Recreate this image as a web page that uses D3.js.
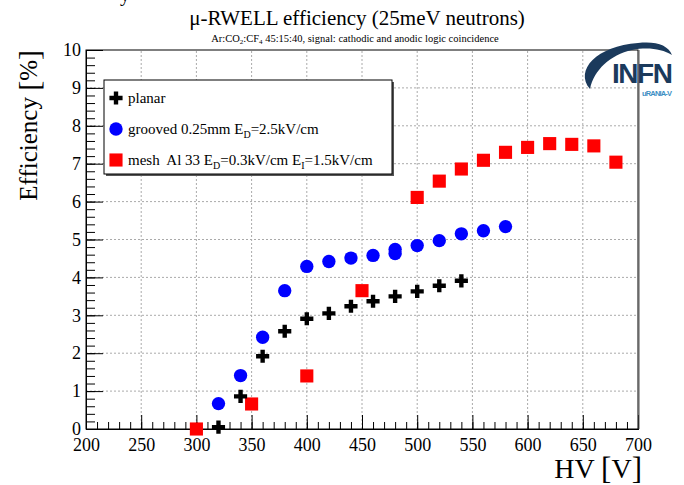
<!DOCTYPE html>
<html>
<head>
<meta charset="utf-8">
<script src="https://cdn.jsdelivr.net/npm/d3@7"></script>
<style>
  body { margin: 0; background: #fff; }
  text { font-family: "Liberation Serif", "DejaVu Serif", serif; }
</style>
</head>
<body>
<script>
// data
const planarHV = [320, 340, 360, 380, 400, 420, 440, 460, 480, 500, 520, 540];
const planarEff = [0.05, 0.86, 1.92, 2.58, 2.91, 3.05, 3.24, 3.37, 3.50, 3.63, 3.78, 3.91];

const groovedHV = [320, 340, 360, 380, 400, 420, 440, 460, 480, 480, 500, 520, 540, 560, 580];
const groovedEff = [0.67, 1.41, 2.42, 3.65, 4.29, 4.42, 4.51, 4.58, 4.63, 4.74, 4.84, 4.97, 5.15, 5.23, 5.34];

const meshHV = [300, 350, 400, 450, 500, 520, 540, 560, 580, 600, 620, 640, 660, 680];
const meshEff = [0.0, 0.66, 1.40, 3.65, 6.11, 6.54, 6.86, 7.09, 7.30, 7.43, 7.53, 7.51, 7.47, 7.04];

const xMajor = [200, 250, 300, 350, 400, 450, 500, 550, 600, 650, 700];
const yMajor = [0, 1, 2, 3, 4, 5, 6, 7, 8, 9, 10];

const width = 684;
const height = 485;

const svg = d3.select('body').append('svg')
  .attr('width', width)
  .attr('height', height);

const x = d3.scaleLinear().domain([200, 700]).range([86, 638]);
const y = d3.scaleLinear().domain([0, 10]).range([429, 50]);

// grid
svg.append('g')
  .selectAll('line')
  .data(xMajor.slice(1, -1))
  .enter().append('line')
    .attr('x1', d => x(d)).attr('x2', d => x(d))
    .attr('y1', y(0)).attr('y2', y(10))
    .attr('stroke', '#aaa')
    .attr('stroke-dasharray', '2,2');

svg.append('g')
  .selectAll('line')
  .data(yMajor.slice(1, -1))
  .enter().append('line')
    .attr('x1', x(200)).attr('x2', x(700))
    .attr('y1', d => y(d)).attr('y2', d => y(d))
    .attr('stroke', '#aaa')
    .attr('stroke-dasharray', '2,2');

// axes, ticks inside the frame
const xMinor = d3.range(200, 701, 10);
const yMinor = d3.range(0, 10.01, 0.2);

svg.append('g')
  .attr('transform', `translate(0,${y(0)})`)
  .call(d3.axisBottom(x).tickValues(xMinor).tickSize(-7).tickFormat(''));
svg.append('g')
  .attr('class', 'xaxis')
  .attr('transform', `translate(0,${y(0)})`)
  .call(d3.axisBottom(x).tickValues(xMajor).tickSize(-14).tickPadding(6).tickFormat(d3.format('d')));

svg.append('g')
  .attr('transform', `translate(${x(200)},0)`)
  .call(d3.axisLeft(y).tickValues(yMinor).tickSize(-9).tickFormat(''));
svg.append('g')
  .attr('class', 'yaxis')
  .attr('transform', `translate(${x(200)},0)`)
  .call(d3.axisLeft(y).tickValues(yMajor).tickSize(-17).tickPadding(5).tickFormat(d3.format('d')));

svg.selectAll('.domain').attr('stroke', '#000');
svg.selectAll('.tick line').attr('stroke', '#000');
svg.selectAll('.xaxis, .yaxis')
  .attr('font-family', '"Liberation Serif", serif')
  .attr('font-size', 18);
svg.selectAll('.xaxis text, .yaxis text')
  .attr('fill', '#000')
  .style('font-family', '"Liberation Serif", serif');
svg.selectAll('.xaxis text').attr('dy', '0.9em');

// frame
svg.append('rect')
  .attr('x', x(200)).attr('y', y(10))
  .attr('width', x(700) - x(200)).attr('height', y(0) - y(10))
  .attr('fill', 'none')
  .attr('stroke', '#000');
svg.append('line')
  .attr('x1', x(700) + 1).attr('x2', x(700) + 1)
  .attr('y1', y(10)).attr('y2', y(0))
  .attr('stroke', '#555');

// points
const cross = d3.symbol(d3.symbolCross, 96);
const circle = d3.symbol(d3.symbolCircle, 140);
const square = d3.symbol(d3.symbolSquare, 172);

svg.append('g')
  .selectAll('path')
  .data(meshHV.map((h, i) => [h, meshEff[i]]))
  .enter().append('path')
    .attr('d', square)
    .attr('transform', d => `translate(${x(d[0])},${y(d[1])})`)
    .attr('fill', '#ff0000');

svg.append('g')
  .selectAll('path')
  .data(groovedHV.map((h, i) => [h, groovedEff[i]]))
  .enter().append('path')
    .attr('d', circle)
    .attr('transform', d => `translate(${x(d[0])},${y(d[1])})`)
    .attr('fill', '#0000ff');

svg.append('g')
  .selectAll('path')
  .data(planarHV.map((h, i) => [h, planarEff[i]]))
  .enter().append('path')
    .attr('d', cross)
    .attr('transform', d => `translate(${x(d[0])},${y(d[1])})`)
    .attr('fill', '#000');

// legend
const leg = svg.append('g');
leg.append('rect')
  .attr('x', 106).attr('y', 82).attr('width', 288).attr('height', 94)
  .attr('fill', '#555');
leg.append('rect')
  .attr('x', 104).attr('y', 80).attr('width', 288).attr('height', 94)
  .attr('fill', '#fff').attr('stroke', '#000');

leg.append('path').attr('d', cross).attr('transform', 'translate(116,98)').attr('fill', '#000');
leg.append('path').attr('d', circle).attr('transform', 'translate(116,129)').attr('fill', '#0000ff');
leg.append('path').attr('d', square).attr('transform', 'translate(116,160)').attr('fill', '#ff0000');

const legText = leg.append('g').style('font-size', '15px');
legText.append('text').attr('x', 128).attr('y', 103).text('planar');
const t2 = legText.append('text').attr('x', 128).attr('y', 134);
t2.append('tspan').text('grooved 0.25mm E');
t2.append('tspan').attr('dy', 4).style('font-size', '10px').text('D');
t2.append('tspan').attr('dy', -4).text('=2.5kV/cm');
const t3 = legText.append('text').attr('x', 128).attr('y', 165).attr('xml:space', 'preserve');
t3.append('tspan').text('mesh  Al 33 E');
t3.append('tspan').attr('dy', 4).style('font-size', '10px').text('D');
t3.append('tspan').attr('dy', -4).text('=0.3kV/cm E');
t3.append('tspan').attr('dy', 4).style('font-size', '10px').text('I');
t3.append('tspan').attr('dy', -4).text('=1.5kV/cm');

// titles
svg.append('text')
  .attr('x', 357).attr('y', 25)
  .attr('text-anchor', 'middle')
  .style('font-size', '21px')
  .text('μ-RWELL efficiency (25meV neutrons)');

const sub = svg.append('text')
  .attr('x', 355).attr('y', 42)
  .attr('text-anchor', 'middle')
  .style('font-size', '10.5px');
sub.append('tspan').text('Ar:CO');
sub.append('tspan').attr('dy', 2).style('font-size', '7px').text('2');
sub.append('tspan').attr('dy', -2).text(':CF');
sub.append('tspan').attr('dy', 2).style('font-size', '7px').text('4');
sub.append('tspan').attr('dy', -2).text(' 45:15:40, signal: cathodic and anodic logic coincidence');

// cut-off text at the top edge
svg.append('text')
  .attr('x', 120).attr('y', 1)
  .style('font-size', '20px')
  .text('y');

const hv = svg.append('text')
  .attr('x', 642).attr('y', 478)
  .attr('text-anchor', 'end')
  .style('font-size', '28px');
hv.append('tspan').text('HV ');
hv.append('tspan').style('font-size', '31px').attr('dy', 1).text('[');
hv.append('tspan').attr('dy', -1).text('V');
hv.append('tspan').style('font-size', '31px').attr('dy', 1).text(']');

const eff = svg.append('text')
  .attr('transform', 'translate(37,50) rotate(-90)')
  .attr('text-anchor', 'end')
  .style('font-size', '25px');
eff.append('tspan').text('Efficiency ');
eff.append('tspan').style('font-size', '30px').attr('dy', 2).text('[');
eff.append('tspan').attr('dy', -2).text('%');
eff.append('tspan').style('font-size', '30px').attr('dy', 2).text(']');

// INFN logo
const logo = svg.append('g');
logo.append('path')
  .attr('d', 'M 590 89 C 574 70, 597 46, 638 43 C 656 41, 668 45, 672 55 C 662 49, 648 47, 632 50 C 610 55, 594 70, 590 89 Z')
  .attr('fill', '#1b3a5c');
logo.append('text')
  .attr('x', 612).attr('y', 83)
  .style('font-family', '"Liberation Sans Narrow", "Liberation Sans", sans-serif')
  .style('font-weight', 'bold')
  .style('font-size', '28px')
  .attr('fill', '#1b3a5c')
  .attr('textLength', 61)
  .text('INFN');
logo.append('text')
  .attr('x', 642).attr('y', 96)
  .style('font-family', '"Liberation Sans Narrow", "Liberation Sans", sans-serif')
  .style('font-weight', 'bold')
  .style('font-size', '7.5px')
  .attr('fill', '#3d8fc4')
  .attr('textLength', 30)
  .text('uRANIA-V');
</script>
</body>
</html>
